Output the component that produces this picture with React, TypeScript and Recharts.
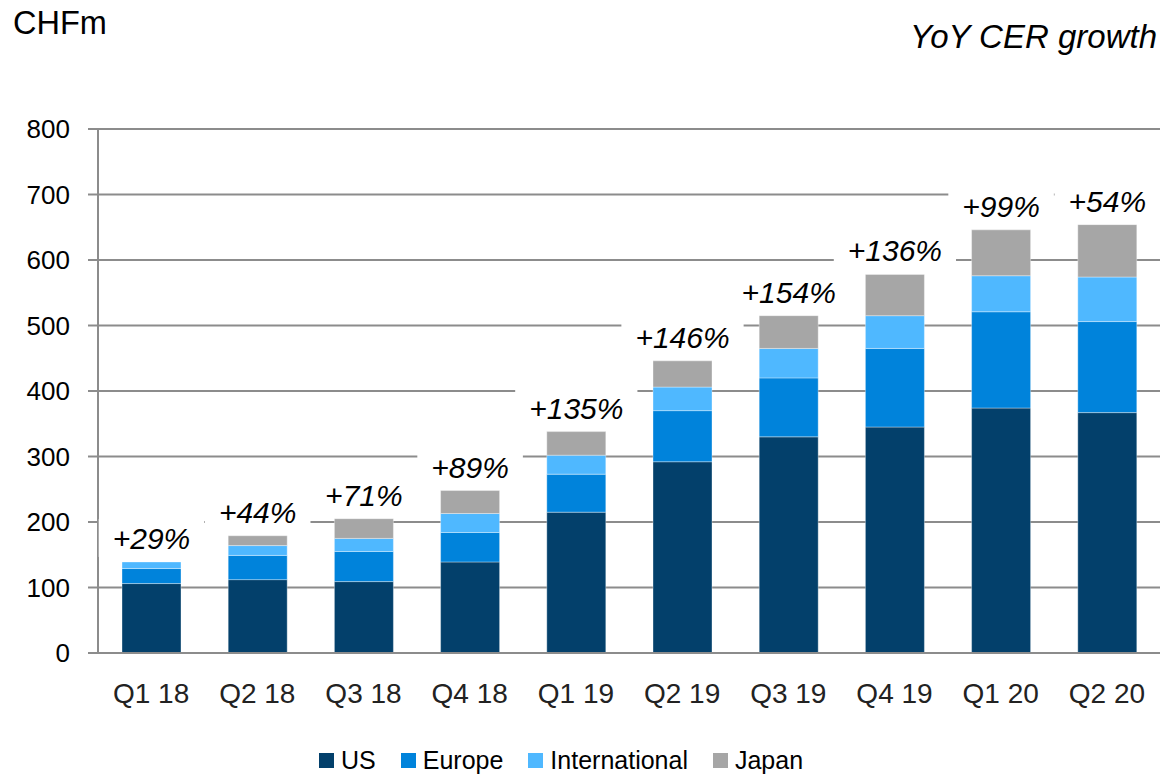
import { BarChart, Bar, XAxis, YAxis, CartesianGrid, LabelList } from 'recharts';

// quarterly sales by region, CHFm
const categories = ['Q1 18', 'Q2 18', 'Q3 18', 'Q4 18', 'Q1 19', 'Q2 19', 'Q3 19', 'Q4 19', 'Q1 20', 'Q2 20'];
const us = [106, 112, 109, 139, 215, 292, 330, 345, 374, 367];
const europe = [23, 37, 46, 45, 58, 78, 90, 120, 147, 139];
const international = [10, 15, 20, 29, 29, 36, 45, 50, 55, 68];
const japan = [0, 15, 30, 35, 36, 40, 50, 63, 70, 80];
const growth = ['+29%', '+44%', '+71%', '+89%', '+135%', '+146%', '+154%', '+136%', '+99%', '+54%'];
const yTicks = [0, 100, 200, 300, 400, 500, 600, 700, 800];

const series = [
  { key: 'us', name: 'US', color: '#03406b' },
  { key: 'europe', name: 'Europe', color: '#0083db' },
  { key: 'international', name: 'International', color: '#4fb8ff' },
  { key: 'japan', name: 'Japan', color: '#a6a6a6' },
];

const data = categories.map((name, i) => ({
  name,
  us: us[i],
  europe: europe[i],
  international: international[i],
  japan: japan[i],
  growth: growth[i],
}));

const FONT = '"Liberation Sans", Arial, sans-serif';
const GRID = '#8c8c8c';

// rough Arial widths, only used to size the white box behind each label
const charW = (c: string) => (c === '%' ? 0.889 : c === '+' ? 0.584 : 0.556);

// hung off the US segment (never zero) — Japan is 0 in Q1 18 so a label there gets dropped.
// stack top is worked out from the US segment's own pixel scale.
const GrowthLabel = (props: any) => {
  const { x, y, width, height, index } = props;
  const i = Number(index);
  const zero = Number(y) + Number(height);
  const ppu = Number(height) / us[i];
  const total = us[i] + europe[i] + international[i] + japan[i];
  const top = zero - total * ppu;
  const cx = Number(x) + Number(width) / 2;
  const base = top - 13;
  const size = 30;
  const label = growth[i];
  const tw = label.split('').reduce((s, c) => s + charW(c), 0) * size;
  return (
    <g>
      <rect x={cx - tw / 2 - 14} y={base - 30} width={tw + 28} height={38} fill="#fff" />
      <text x={cx} y={base} textAnchor="middle" fontSize={size} fontStyle="italic" fill="#000" fontFamily={FONT}>
        {label}
      </text>
    </g>
  );
};

const App = () => (
  <div style={{ position: 'absolute', left: 0, top: 0, width: 1163, height: 775, background: '#fff', fontFamily: FONT }}>
    <div style={{ position: 'absolute', left: 13, top: 4, fontSize: 32.5, lineHeight: '38px', color: '#000' }}>CHFm</div>
    <div style={{ position: 'absolute', right: 6, top: 18, fontSize: 33, lineHeight: '38px', fontStyle: 'italic', color: '#000' }}>
      YoY CER growth
    </div>

    <BarChart width={1163} height={775} data={data} margin={{ top: 129, right: 3, left: 0, bottom: 0 }} style={{ fontFamily: FONT }}>
      <CartesianGrid vertical={false} stroke={GRID} strokeWidth={2} />
      <XAxis
        dataKey="name"
        height={122}
        tickLine={false}
        tickSize={0}
        tickMargin={30}
        axisLine={{ stroke: GRID, strokeWidth: 2 }}
        tick={{ fill: '#222', fontSize: 28, fontFamily: FONT }}
        interval={0}
      />
      <YAxis
        width={98}
        domain={[0, 800]}
        ticks={yTicks}
        interval={0}
        tickSize={10}
        tickMargin={18}
        tickLine={{ stroke: GRID, strokeWidth: 2 }}
        axisLine={{ stroke: GRID, strokeWidth: 2 }}
        tick={{ fill: '#000', fontSize: 26, fontFamily: FONT }}
      />
      {series.map((s, i) => (
        <Bar
          key={s.key}
          dataKey={s.key}
          name={s.name}
          stackId="a"
          fill={s.color}
          stroke="#ffffff"
          strokeOpacity={0.35}
          strokeWidth={1}
          barSize={59}
          isAnimationActive={false}
        >
          {i === 0 && <LabelList dataKey="us" content={GrowthLabel} />}
        </Bar>
      ))}
    </BarChart>

    <div
      style={{
        position: 'absolute',
        left: 319,
        top: 748,
        display: 'flex',
        alignItems: 'center',
        gap: 25,
        fontSize: 25,
        lineHeight: '25px',
        color: '#000',
      }}
    >
      {series.map((s) => (
        <div key={s.key} style={{ display: 'flex', alignItems: 'center' }}>
          <span style={{ display: 'inline-block', width: 15, height: 15, background: s.color, marginRight: 7 }} />
          <span>{s.name}</span>
        </div>
      ))}
    </div>
  </div>
);

export default App;
